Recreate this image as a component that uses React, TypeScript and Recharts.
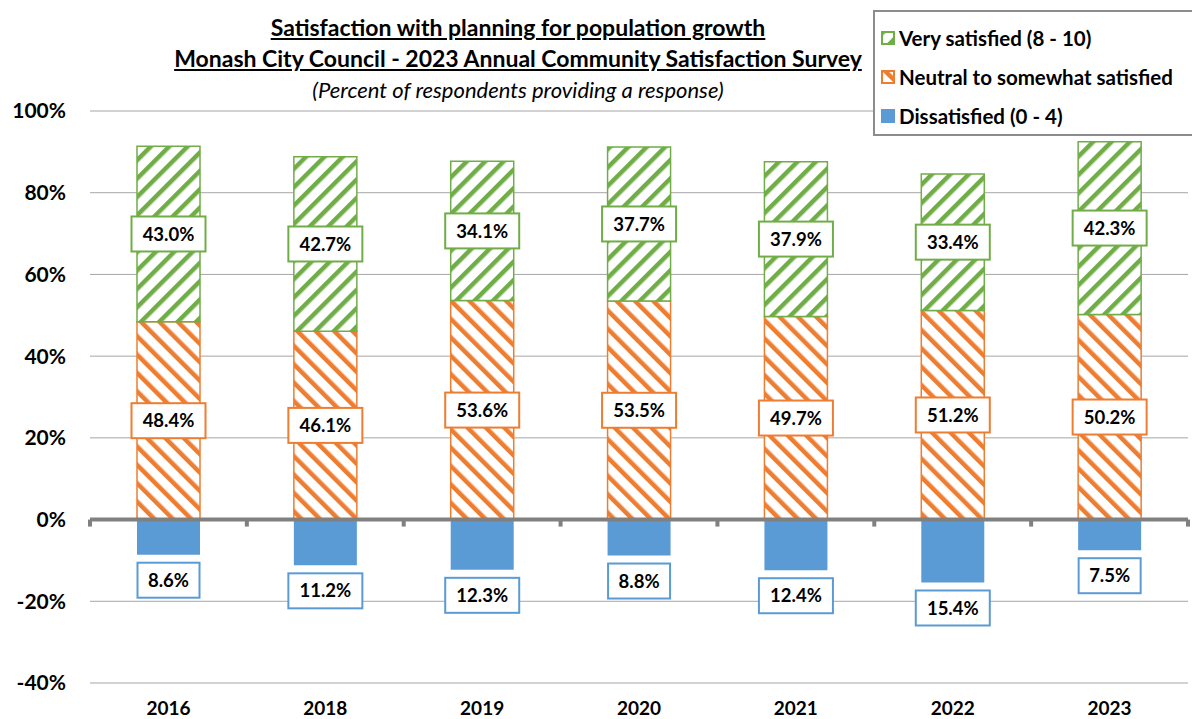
import { Bar, BarChart, CartesianGrid, LabelList, ReferenceLine, XAxis, YAxis } from "recharts";

const years = ["2016", "2018", "2019", "2020", "2021", "2022", "2023"];
const verySatisfied = [43.0, 42.7, 34.1, 37.7, 37.9, 33.4, 42.3];
const neutral = [48.4, 46.1, 53.6, 53.5, 49.7, 51.2, 50.2];
const dissatisfied = [8.6, 11.2, 12.3, 8.8, 12.4, 15.4, 7.5];
const yTicks = [-40, -20, 0, 20, 40, 60, 80, 100];

const GREEN = "#70AD47";
const ORANGE = "#ED7D31";
const BLUE = "#5B9BD5";
const FONT = "Lato, 'Open Sans', sans-serif";

const data = years.map((year, i) => ({
  year,
  neutral: neutral[i],
  very: verySatisfied[i],
  dis: -dissatisfied[i],
}));

function boxLabel(color: string, below: boolean) {
  return (props: any) => {
    const { x, y, width, height, value } = props;
    const text = `${Math.abs(Number(value)).toFixed(1)}%`;
    const w = text.length * 12 + 14;
    const h = 35;
    const cx = Number(x) + Number(width) / 2;
    const top = Math.min(Number(y), Number(y) + Number(height));
    const bottom = Math.max(Number(y), Number(y) + Number(height));
    const cy = below ? bottom + 8 + h / 2 : (top + bottom) / 2;
    return (
      <g>
        <rect x={cx - w / 2} y={cy - h / 2} width={w} height={h} fill="#fff" stroke={color} strokeWidth={2} />
        <text x={cx} y={cy} dy="0.36em" textAnchor="middle" fontFamily={FONT} fontWeight={700} fontSize={18.5} fill="#000">
          {text}
        </text>
      </g>
    );
  };
}

function ZeroTicks(props: any) {
  const vb = props.viewBox || {};
  const step = vb.width / years.length;
  return (
    <g>
      {Array.from({ length: years.length + 1 }, (_, i) => (
        <rect key={i} x={vb.x + i * step - 2} y={vb.y} width={4} height={7} fill="#808080" />
      ))}
    </g>
  );
}

function Swatch({ kind }: { kind: string }) {
  const fill = kind === "very" ? "url(#greenStripe)" : kind === "neutral" ? "url(#orangeStripe)" : BLUE;
  const stroke = kind === "very" ? GREEN : kind === "neutral" ? ORANGE : BLUE;
  return (
    <svg width={14} height={14} style={{ marginRight: 4 }}>
      <rect x={1} y={1} width={12} height={12} fill={fill} stroke={stroke} strokeWidth={2} />
    </svg>
  );
}

export default function App() {
  const legendItems = [
    { kind: "very", label: "Very satisfied (8 - 10)" },
    { kind: "neutral", label: "Neutral to somewhat satisfied" },
    { kind: "dis", label: "Dissatisfied (0 - 4)" },
  ];
  return (
    <div style={{ position: "absolute", left: 0, top: 0, width: 1192, height: 719, background: "#fff", fontFamily: FONT }}>
      <svg width={0} height={0} style={{ position: "absolute" }}>
        <defs>
          <pattern id="greenStripe" patternUnits="userSpaceOnUse" width={13} height={13} patternTransform="rotate(45)">
            <rect width={13} height={13} fill="#fff" />
            <rect width={4.5} height={13} fill={GREEN} />
          </pattern>
          <pattern id="orangeStripe" patternUnits="userSpaceOnUse" width={13} height={13} patternTransform="rotate(-45)">
            <rect width={13} height={13} fill="#fff" />
            <rect width={4.5} height={13} fill={ORANGE} />
          </pattern>
        </defs>
      </svg>

      <BarChart width={1192} height={719} data={data} stackOffset="sign" margin={{ top: 111, right: 4, bottom: 0, left: 0 }}>
        <CartesianGrid vertical={false} stroke="#A6A6A6" />
        <XAxis
          dataKey="year"
          axisLine={false}
          tickLine={false}
          tickSize={0}
          tickMargin={19}
          height={36}
          tick={{ fontSize: 19, fontWeight: 700, fill: "#000", fontFamily: FONT }}
        />
        <YAxis
          domain={[-40, 100]}
          ticks={yTicks}
          width={90}
          axisLine={false}
          tickLine={false}
          tickSize={0}
          tickMargin={24}
          tickFormatter={(v) => `${v}%`}
          tick={{ fontSize: 21, fontWeight: 700, fill: "#000", fontFamily: FONT }}
        />
        <Bar dataKey="neutral" stackId="a" barSize={63} fill="url(#orangeStripe)" stroke={ORANGE} strokeWidth={1.5} isAnimationActive={false}>
          <LabelList dataKey="neutral" content={boxLabel(ORANGE, false)} />
        </Bar>
        <Bar dataKey="very" stackId="a" barSize={63} fill="url(#greenStripe)" stroke={GREEN} strokeWidth={1.5} isAnimationActive={false}>
          <LabelList dataKey="very" content={boxLabel(GREEN, false)} />
        </Bar>
        <Bar dataKey="dis" stackId="a" barSize={63} fill={BLUE} isAnimationActive={false}>
          <LabelList dataKey="dis" content={boxLabel(BLUE, true)} />
        </Bar>
        <ReferenceLine y={0} stroke="#808080" strokeWidth={4} label={<ZeroTicks />} />
      </BarChart>

      <div style={{ position: "absolute", left: 0, width: 1036, top: 12, textAlign: "center", color: "#000" }}>
        <div style={{ fontSize: 23, fontWeight: 700, textDecoration: "underline", lineHeight: "31px" }}>
          Satisfaction with planning for population growth
        </div>
        <div style={{ fontSize: 23, fontWeight: 700, textDecoration: "underline", lineHeight: "31px" }}>
          Monash City Council - 2023 Annual Community Satisfaction Survey
        </div>
        <div style={{ fontSize: 22, fontStyle: "italic", lineHeight: "32px" }}>(Percent of respondents providing a response)</div>
      </div>

      <div
        style={{
          position: "absolute",
          left: 873,
          top: 10,
          width: 330,
          height: 126,
          border: "2px solid #8C8C8C",
          background: "#fff",
          boxSizing: "border-box",
          padding: "8px 0 0 6px",
        }}
      >
        {legendItems.map((it) => (
          <div key={it.kind} style={{ display: "flex", alignItems: "center", height: 42, marginTop: -3, fontSize: 20.5, fontWeight: 700, color: "#000", whiteSpace: "nowrap" }}>
            <Swatch kind={it.kind} />
            {it.label}
          </div>
        ))}
      </div>
    </div>
  );
}
